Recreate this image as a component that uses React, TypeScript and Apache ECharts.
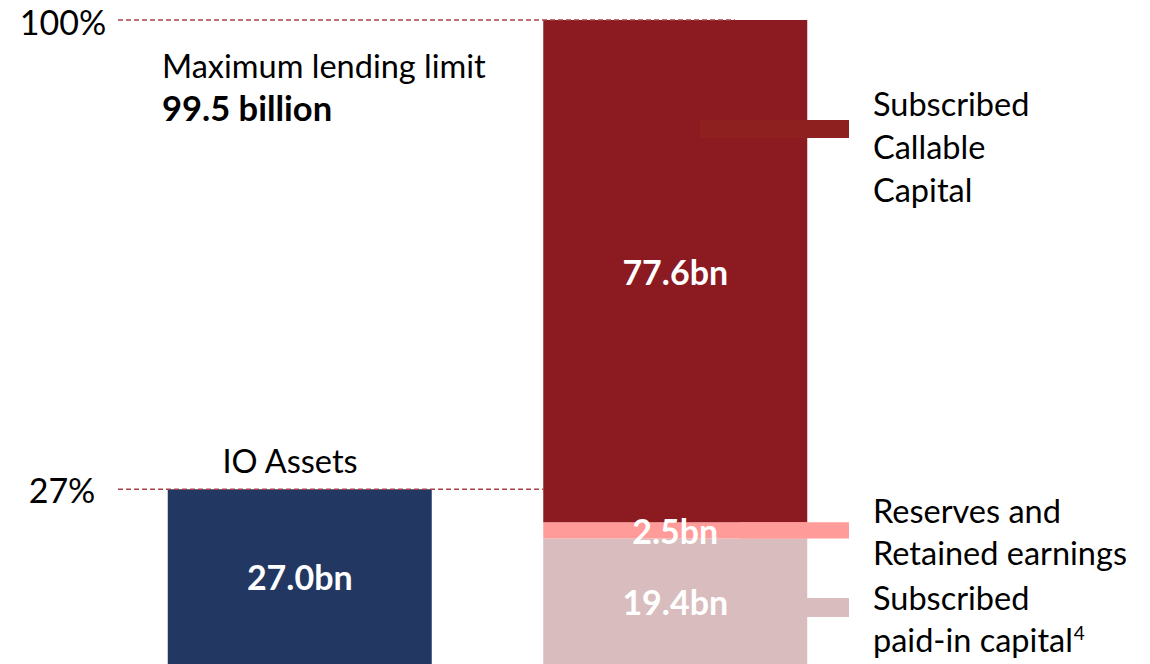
import React, { useEffect, useRef } from 'react';
import * as echarts from 'echarts';

const categories = ['IO Assets', 'Capital'];
const ioAssets: (number | string)[] = [27.0, '-'];
const paidIn: (number | string)[] = ['-', 19.4];
const reserves: (number | string)[] = ['-', 2.5];
const callable: (number | string)[] = ['-', 77.6];
const maxLending = 99.5;
const tickValues = [99.5, 27.0];
const tickLabels = ['100%', '27%'];
const callableLabel = ['Subscribed', 'Callable', 'Capital'];
const reservesLabel = ['Reserves and', 'Retained earnings'];
const paidInLabel = ['Subscribed', 'paid-in capital'];

const FONT = 'Lato, "Open Sans", sans-serif';
const C_NAVY = '#223862';
const C_CALL = '#8B1A21';
const C_RES = '#FF9B99';
const C_PAID = '#D9BDBE';
const C_DASH = '#A8434A';
const FS = 32.5;

export default function App() {
  const ref = useRef<HTMLDivElement>(null);
  useEffect(() => {
    if (!ref.current) return;
    const chart = echarts.init(ref.current, undefined, { renderer: 'svg' });
    const lbl = {
      show: true,
      position: 'inside',
      color: '#ffffff',
      fontFamily: FONT,
      fontWeight: 'bold',
      fontSize: 34,
      formatter: (p: any) => Number(p.value).toFixed(1) + 'bn',
    };
    chart.setOption({
      animation: false,
      grid: { left: 112, right: 287, top: 20, bottom: 0 },
      xAxis: { type: 'category', data: categories, show: false },
      yAxis: { type: 'value', min: 0, max: maxLending, show: false },
      series: [
        { name: 'IO Assets', type: 'bar', data: ioAssets, barWidth: 264, barGap: '-100%', itemStyle: { color: C_NAVY }, label: lbl },
        { name: 'Paid-in', type: 'bar', stack: 'cap', data: paidIn, barWidth: 264, barGap: '-100%', itemStyle: { color: C_PAID }, label: lbl },
        { name: 'Reserves', type: 'bar', stack: 'cap', data: reserves, barWidth: 264, barGap: '-100%', itemStyle: { color: C_RES }, label: lbl },
        { name: 'Callable', type: 'bar', stack: 'cap', data: callable, barWidth: 264, barGap: '-100%', itemStyle: { color: C_CALL }, label: lbl },
      ],
    });

    const y = (v: number) => chart.convertToPixel({ gridIndex: 0 }, [0, v])[1];
    const yTop = y(tickValues[0]);
    const y27 = y(tickValues[1]);
    const yPaidTop = y(19.4);
    const yResTop = y(19.4 + 2.5);

    const textStyle = (extra: any) => ({ fontFamily: FONT, fontSize: FS, fill: '#000000', ...extra });
    const lines = (arr: string[], x: number, y0: number, gap: number) =>
      arr.map((t, i) => ({ type: 'text', x, y: y0 + i * gap, style: textStyle({ text: t, verticalAlign: 'middle', align: 'left' }) }));

    chart.setOption({
      graphic: [
        { type: 'line', shape: { x1: 118, y1: yTop, x2: 735, y2: yTop }, style: { stroke: C_DASH, lineWidth: 1.4, lineDash: [5, 3] }, z: 10 },
        { type: 'line', shape: { x1: 118, y1: y27, x2: 543, y2: y27 }, style: { stroke: C_DASH, lineWidth: 1.4, lineDash: [5, 3] }, z: 10 },
        { type: 'text', x: 63, y: yTop + 1, style: textStyle({ text: tickLabels[0], align: 'center', verticalAlign: 'middle', fontSize: 34 }) },
        { type: 'text', x: 62, y: y27, style: textStyle({ text: tickLabels[1], align: 'center', verticalAlign: 'middle', fontSize: 34 }) },
        { type: 'text', x: 162, y: 65, style: textStyle({ text: 'Maximum lending limit', verticalAlign: 'middle' }) },
        { type: 'text', x: 162, y: 107, style: textStyle({ text: maxLending + ' billion', verticalAlign: 'middle', fontWeight: 'bold', fontSize: 34.5 }) },
        { type: 'text', x: 290, y: 460, style: textStyle({ text: categories[0], align: 'center', verticalAlign: 'middle' }) },
        { type: 'rect', shape: { x: 700, y: 120, width: 149, height: 18 }, style: { fill: '#8E2020' }, z: 10 },
        { type: 'rect', shape: { x: 740, y: yResTop, width: 109, height: yPaidTop - yResTop }, style: { fill: C_RES }, z: 10 },
        { type: 'rect', shape: { x: 807, y: 598, width: 42, height: 19 }, style: { fill: C_PAID }, z: 10 },
        ...lines(callableLabel, 873, 103, 43),
        ...lines(reservesLabel, 873, 510, 42),
        { type: 'text', x: 873, y: 597, style: textStyle({ text: paidInLabel[0], verticalAlign: 'middle' }) },
        {
          type: 'text', x: 873, y: 639,
          style: {
            text: '{a|' + paidInLabel[1] + '}{s|4}',
            verticalAlign: 'middle',
            rich: {
              a: { fontFamily: FONT, fontSize: FS, fill: '#000000', color: '#000000' },
              s: { fontFamily: FONT, fontSize: 19, fill: '#000000', color: '#000000', verticalAlign: 'top', padding: [0, 0, 13, 1] },
            },
          },
        },
      ],
    });
    return () => chart.dispose();
  }, []);
  return <div ref={ref} style={{ position: 'absolute', left: 0, top: 0, width: 1150, height: 664 }} />;
}
